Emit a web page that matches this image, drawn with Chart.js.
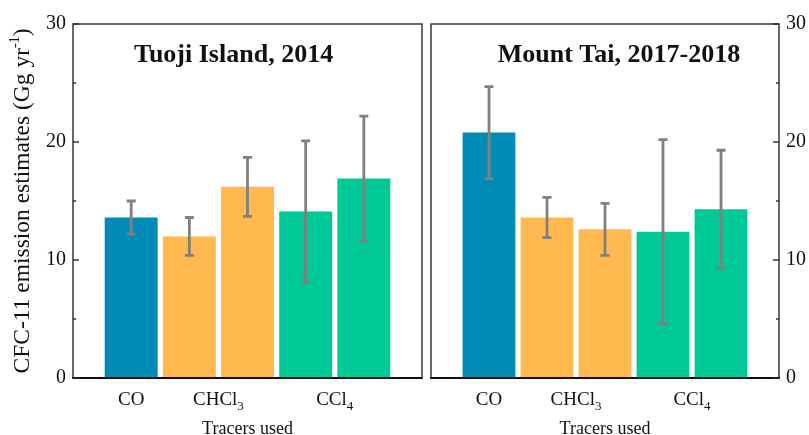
<!DOCTYPE html>
<html>
<head>
<meta charset="utf-8">
<script src="https://cdn.jsdelivr.net/npm/chart.js@4.4.1/dist/chart.umd.min.js"></script>
<style>
  html, body { margin: 0; padding: 0; background: #fff; }
  body { width: 809px; height: 435px; overflow: hidden; position: relative; }
  canvas { position: absolute; top: 0; }
</style>
</head>
<body>
<canvas id="c1" width="427" height="435" style="left:0"></canvas>
<canvas id="c2" width="382" height="435" style="left:427px"></canvas>
<script>
// ---------------- data ----------------
const tracerNames = ['CO', 'CHCl', 'CCl'];
const tracerSubs = ['', '3', '4'];
const tracerBarPos = [0, 1.5, 3.5];          // position of each tracer label among the bars
const barIndex = [0, 1, 2, 3, 4];

const tuojiValues = [13.6, 12.0, 16.2, 14.1, 16.9];
const tuojiLow    = [12.2, 10.4, 13.7, 8.1, 11.6];
const tuojiHigh   = [15.0, 13.6, 18.7, 20.1, 22.2];

const taiValues = [20.8, 13.6, 12.6, 12.4, 14.3];
const taiLow    = [16.9, 11.9, 10.4, 4.6, 9.3];
const taiHigh   = [24.7, 15.3, 14.8, 20.2, 19.3];

const barColors = ['#008cb5', '#ffb94f', '#ffb94f', '#00c998', '#00c998'];
const majorTicks = [0, 10, 20, 30];
const minorTicks = [5, 15, 25];

const panelTitles = ['Tuoji Island, 2014', 'Mount Tai, 2017-2018'];
const xTitle = 'Tracers used';
const yTitleMain = 'CFC-11 emission estimates (Gg yr';
const yTitleSup = '-1';
const yTitleEnd = ')';

const SERIF = '"Liberation Serif", "Times New Roman", serif';

// ---------------- plugin ----------------
const panelPlugin = {
  id: 'panel',
  afterDatasetsDraw(chart, args, o) {
    const { ctx, chartArea: a, scales: { x, y } } = chart;
    const meta = chart.getDatasetMeta(0);
    ctx.save();
    // error bars
    ctx.strokeStyle = '#808080';
    ctx.lineWidth = 2.8;
    o.low.forEach((lo, i) => {
      const px = meta.data[i].x;
      const y1 = y.getPixelForValue(lo);
      const y2 = y.getPixelForValue(o.high[i]);
      ctx.beginPath();
      ctx.moveTo(px, y1); ctx.lineTo(px, y2);
      ctx.moveTo(px - 4.5, y1); ctx.lineTo(px + 4.5, y1);
      ctx.moveTo(px - 4.5, y2); ctx.lineTo(px + 4.5, y2);
      ctx.stroke();
    });
    // frame
    ctx.strokeStyle = '#2a2a2a';
    ctx.lineWidth = 1.4;
    ctx.strokeRect(a.left, a.top, a.right - a.left, a.bottom - a.top);
    ctx.lineWidth = 2;
    ctx.strokeStyle = '#111';
    ctx.beginPath(); ctx.moveTo(a.left - 0.7, a.bottom); ctx.lineTo(a.right + 0.7, a.bottom); ctx.stroke();
    // inward ticks
    ctx.strokeStyle = '#2a2a2a';
    ctx.lineWidth = 1.4;
    const ax = o.side === 'left' ? a.left : a.right;
    const dir = o.side === 'left' ? 1 : -1;
    majorTicks.forEach(v => {
      const py = y.getPixelForValue(v);
      ctx.beginPath(); ctx.moveTo(ax, py); ctx.lineTo(ax + dir * 6, py); ctx.stroke();
    });
    minorTicks.forEach(v => {
      const py = y.getPixelForValue(v);
      ctx.beginPath(); ctx.moveTo(ax, py); ctx.lineTo(ax + dir * 3, py); ctx.stroke();
    });
    // category labels with subscripts
    ctx.fillStyle = '#111';
    ctx.textBaseline = 'alphabetic';
    ctx.textAlign = 'left';
    tracerNames.forEach((name, i) => {
      ctx.font = '19px ' + SERIF;
      const w1 = ctx.measureText(name).width;
      ctx.font = '13px ' + SERIF;
      const w2 = tracerSubs[i] ? ctx.measureText(tracerSubs[i]).width : 0;
      const cx = x.getPixelForValue(tracerBarPos[i]);
      const sx = cx - (w1 + w2) / 2;
      ctx.font = '19px ' + SERIF;
      ctx.fillText(name, sx, 405);
      if (tracerSubs[i]) {
        ctx.font = '13px ' + SERIF;
        ctx.fillText(tracerSubs[i], sx + w1, 410);
      }
    });
    // x title
    ctx.font = '18px ' + SERIF;
    ctx.textAlign = 'center';
    ctx.fillText(xTitle, (a.left + a.right) / 2, 434);
    // panel title
    ctx.font = 'bold 26px ' + SERIF;
    ctx.fillText(o.title, a.left + o.titlePos * (a.right - a.left), 62);
    // y title
    if (o.yTitle) {
      ctx.translate(23, (a.top + a.bottom) / 2);
      ctx.rotate(-Math.PI / 2);
      ctx.textAlign = 'left';
      ctx.textBaseline = 'middle';
      ctx.font = '23.5px ' + SERIF;
      const wm = ctx.measureText(yTitleMain).width;
      const we = ctx.measureText(yTitleEnd).width;
      ctx.font = '14px ' + SERIF;
      const ws = ctx.measureText(yTitleSup).width;
      let sx = -(wm + ws + we) / 2;
      ctx.font = '23.5px ' + SERIF;
      ctx.fillText(yTitleMain, sx, 0);
      ctx.font = '14px ' + SERIF;
      ctx.fillText(yTitleSup, sx + wm, -8);
      ctx.font = '23.5px ' + SERIF;
      ctx.fillText(yTitleEnd, sx + wm + ws, 0);
    }
    ctx.restore();
  }
};

function makePanel(id, values, low, high, side, title, titlePos, padding, yWidth, yTitle) {
  return new Chart(document.getElementById(id), {
    type: 'bar',
    data: {
      datasets: [{
        data: values.map((v, i) => ({ x: barIndex[i], y: v })),
        backgroundColor: barColors,
        borderWidth: 0,
        barPercentage: 0.91,
        categoryPercentage: 1
      }]
    },
    options: {
      responsive: false,
      animation: false,
      events: [],
      layout: { padding: padding },
      plugins: {
        legend: { display: false },
        tooltip: { enabled: false },
        panel: { low, high, side, title, titlePos, yTitle }
      },
      scales: {
        x: { type: 'linear', min: -1, max: 5, offset: false, display: false },
        y: {
          position: side,
          min: 0, max: 30,
          afterBuildTicks: s => { s.ticks = majorTicks.map(v => ({ value: v })); },
          ticks: { padding: 7, color: '#111', font: { family: SERIF, size: 20 } },
          grid: { display: false, drawTicks: false },
          border: { display: false },
          afterFit: s => { s.width = yWidth; }
        }
      }
    },
    plugins: [panelPlugin]
  });
}

makePanel('c1', tuojiValues, tuojiLow, tuojiHigh, 'left', panelTitles[0], 0.46,
  { top: 24, right: 5, bottom: 57, left: 0 }, 73, true);
makePanel('c2', taiValues, taiLow, taiHigh, 'right', panelTitles[1], 0.54,
  { top: 24, right: 0, bottom: 57, left: 4 }, 30, false);
</script>
</body>
</html>
